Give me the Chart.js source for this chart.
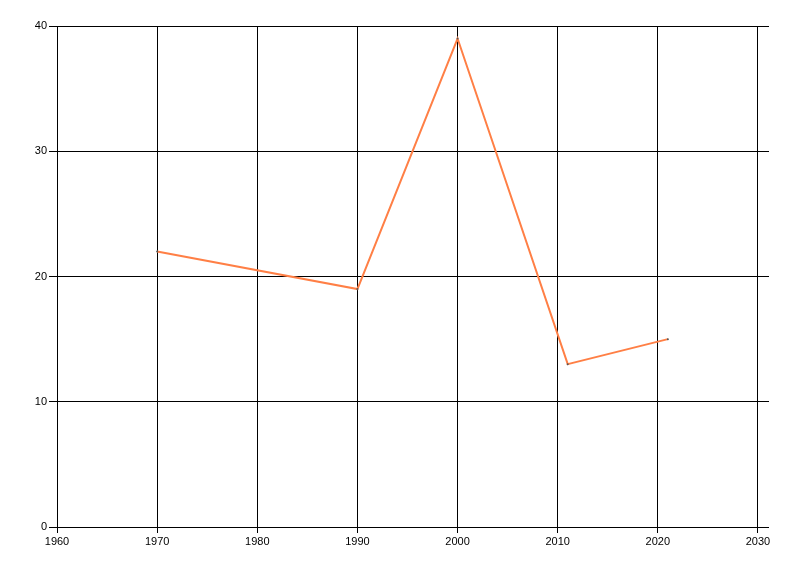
<!DOCTYPE html>
<html>
<head>
<meta charset="utf-8">
<script src="https://cdn.jsdelivr.net/npm/chart.js@4"></script>
<style>
  html, body { margin: 0; padding: 0; background: #fff; }
  #wrap { width: 800px; height: 576px; }
</style>
</head>
<body>
<div id="wrap"><canvas id="chart" width="800" height="576"></canvas></div>
<script>
  // values
  const years = [1970, 1990, 2000, 2011, 2021]
  const values = [22, 19, 39, 13, 15]
  const xTicks = [1960, 1970, 1980, 1990, 2000, 2010, 2020, 2030]
  const yTicks = [0, 10, 20, 30, 40]

  const points = years.map((yr, i) => ({ x: yr, y: values[i] }))
  const font = { family: 'Liberation Sans, Arial, sans-serif', size: 11 }

  new Chart(document.getElementById('chart'), {
    type: 'line',
    data: {
      datasets: [{
        data: points,
        borderColor: '#ff7f45',
        borderWidth: 2,
        pointRadius: 1,
        pointBorderWidth: 0,
        pointBackgroundColor: '#555',
        tension: 0,
        fill: false
      }]
    },
    options: {
      responsive: false,
      animation: false,
      layout: { padding: { top: 26, right: 31, left: 0, bottom: 0 } },
      plugins: { legend: { display: false }, tooltip: { enabled: false } },
      scales: {
        x: {
          type: 'linear',
          min: 1960,
          max: 2031.1,
          afterBuildTicks: axis => { axis.ticks = xTicks.map(v => ({ value: v })) },
          afterFit: axis => { axis.height = 49 },
          grid: { color: '#000', lineWidth: 1, tickLength: 6 },
          border: { display: false },
          ticks: { color: '#000', font: font, padding: 2, maxRotation: 0, callback: v => String(v) }
        },
        y: {
          min: 0,
          max: 40,
          afterBuildTicks: axis => { axis.ticks = yTicks.map(v => ({ value: v })) },
          afterFit: axis => { axis.width = 57 },
          grid: { color: '#000', lineWidth: 1, tickLength: 8 },
          border: { display: false },
          ticks: { color: '#000', font: font, padding: 2 }
        }
      }
    }
  })
</script>
</body>
</html>
